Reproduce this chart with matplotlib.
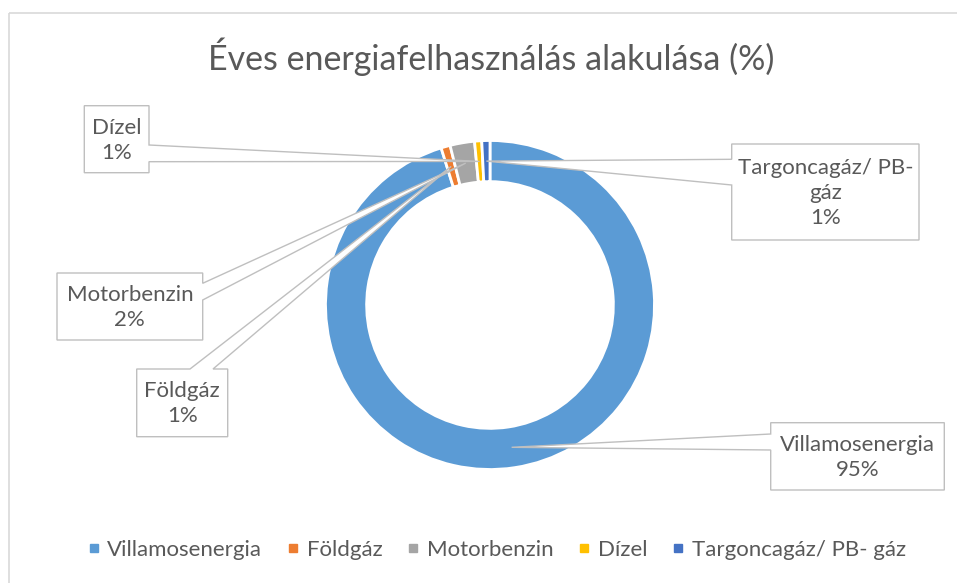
import matplotlib
matplotlib.use("Agg")
import matplotlib.pyplot as plt
from matplotlib.patches import Polygon, Rectangle
from matplotlib.lines import Line2D
import numpy as np

# ---- data ----
categories = ["Villamosenergia", "Földgáz", "Motorbenzin", "Dízel", "Targoncagáz/ PB- gáz"]
values = [95.2, 0.9, 2.4, 0.7, 0.8]
label_names = ["Villamosenergia", "Földgáz", "Motorbenzin", "Dízel", "Targoncagáz/ PB-\ngáz"]
colors = ["#5B9BD5", "#ED7D31", "#A5A5A5", "#FFC000", "#4472C4"]
title = "Éves energiafelhasználás alakulása (%)"

plt.rcParams['font.family'] = ['Lato', 'DejaVu Sans']
TEXT = "#595959"
EDGE = "#BFBFBF"

W, H = 957, 583
fig = plt.figure(figsize=(W / 100, H / 100), dpi=100)
fig.patch.set_facecolor("white")

# donut
cx, cy, R = 490, 305, 164.5
ax = fig.add_axes([(cx - R) / W, (H - cy - R) / H, 2 * R / W, 2 * R / H], zorder=1)
ring_w = 0.25
wedges, _ = ax.pie(values, colors=colors, startangle=90, counterclock=False, radius=1,
                   wedgeprops=dict(width=ring_w, edgecolor="white", linewidth=2))
ax.set_xlim(-1, 1)
ax.set_ylim(-1, 1)
ax.set_aspect("equal")
ax.axis("off")

# overlay in pixel coordinates
ov = fig.add_axes([0, 0, 1, 1], zorder=3)
ov.set_xlim(0, W)
ov.set_ylim(H, 0)
ov.axis("off")

fig.canvas.draw()

# chart border (partial, as in reference)
ov.add_patch(Rectangle((9, 13), 2000, 2000, facecolor="none", edgecolor="#D9D9D9", lw=1.2, clip_on=False))

# title
ov.text(491, 57, title, ha="center", va="center", fontsize=24.5, color=TEXT)

# callouts: box (L, T, R, B), side, base points
boxes = [
    ((770.7, 422.7, 944.3, 490.0), "left", (434, 450)),
    ((136.7, 369.0, 227.7, 436.7), "top", (190, 213)),
    ((57.0, 273.0, 202.7, 340.0), "right", (283.3, 300)),
    ((84.3, 105.7, 149.0, 172.7), "right", (145, 161.7)),
    ((731.7, 144.0, 919.0, 240.0), "left", (159.3, 185)),
]

total = sum(values)
r_mid = 1 - ring_w / 2
for w, name, v, (box, side, (b1, b2)) in zip(wedges, label_names, values, boxes):
    th = np.deg2rad((w.theta1 + w.theta2) / 2)
    disp = ax.transData.transform((r_mid * np.cos(th), r_mid * np.sin(th)))
    apx = ov.transData.inverted().transform(disp)
    apx = (apx[0], apx[1])
    L, T, Rr, B = box
    if side == "left":
        pts = [(L, T), (Rr, T), (Rr, B), (L, B), (L, b2), apx, (L, b1)]
    elif side == "right":
        pts = [(L, T), (Rr, T), (Rr, b1), apx, (Rr, b2), (Rr, B), (L, B)]
    else:  # top
        pts = [(L, T), (b1, T), apx, (b2, T), (Rr, T), (Rr, B), (L, B)]
    ov.add_patch(Polygon(pts, closed=True, facecolor="white", edgecolor=EDGE, lw=1.0, joinstyle="miter"))
    pct = int(round(v / total * 100))
    ov.text((L + Rr) / 2, (T + B) / 2 + 1, f"{name}\n{pct}%", ha="center", va="center",
            fontsize=16, color=TEXT, linespacing=1.32)

# legend
handles = [Line2D([0], [0], marker="s", ls="", color=c, markersize=5.2) for c in colors]
fig.legend(handles, categories, loc="center", bbox_to_anchor=(496.5 / W, (H - 550) / H), ncol=5,
           frameon=False, fontsize=16, handlelength=0.6, handletextpad=0.3, columnspacing=1.1,
           labelcolor=TEXT)

fig.savefig("out.png", dpi=100, facecolor="white")
